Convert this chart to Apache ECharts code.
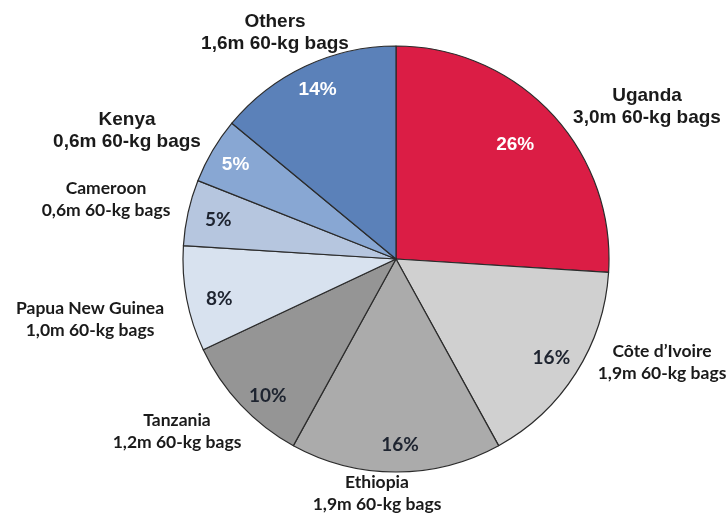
<!DOCTYPE html>
<html>
<head>
<meta charset="utf-8">
<script src="https://cdn.jsdelivr.net/npm/echarts@6/dist/echarts.min.js"></script>
<style>
  html, body { margin: 0; padding: 0; background: #fff; }
  #chart { width: 728px; height: 515px; }
</style>
</head>
<body>
<div id="chart"></div>
<script>
// Share of production by origin, clockwise from 12 o'clock
const origins = ['Uganda', 'Côte d\u2019Ivoire', 'Ethiopia', 'Tanzania', 'Papua New Guinea', 'Cameroon', 'Kenya', 'Others'];
const sharePct = [26, 16, 16, 10, 8, 5, 5, 14];
const bagsMillions = [3.0, 1.9, 1.9, 1.2, 1.0, 0.6, 0.6, 1.6];

const sliceColors = ['#db1d45', '#d0d0d0', '#ababab', '#959595', '#d8e2ef', '#b6c6df', '#88a7d3', '#5b81b9'];
// Slices whose labels are set in an Arial-style face with white percentages
const arialSet = { 'Uganda': true, 'Kenya': true, 'Others': true };
const ARIAL = 'Arial';
const CALIBRI = 'Lato';

const CX = 396, CY = 259, R = 213;

// Centres of the outer name labels
const nameSpots = {
  'Uganda': [647, 107],
  'Côte d\u2019Ivoire': [662, 362],
  'Ethiopia': [377, 493],
  'Tanzania': [177, 431],
  'Papua New Guinea': [90, 319],
  'Cameroon': [106, 199],
  'Kenya': [127, 131],
  'Others': [275, 33]
};
// Small nudges for the percentage labels
const pctNudge = {
  'Uganda': [-15, 12],
  'Ethiopia': [4, 2],
  'Tanzania': [6, 11],
  'Others': [0, -3],
  'Kenya': [-2, -1],
  'Papua New Guinea': [4, 5],
  'Cameroon': [2, 1]
};

const fmtBags = v => v.toFixed(1).replace('.', ',') + 'm 60-kg bags';

const chart = echarts.init(document.getElementById('chart'), null, { renderer: 'canvas' });

const sliceData = origins.map((name, i) => ({
  name,
  value: sharePct[i],
  itemStyle: { color: sliceColors[i] },
  label: {
    fontFamily: arialSet[name] ? ARIAL : CALIBRI,
    fontSize: arialSet[name] ? 19 : 17.5,
    lineHeight: 22
  }
}));

const pctData = origins.map((name, i) => ({
  name,
  value: sharePct[i],
  label: {
    color: arialSet[name] ? '#ffffff' : '#1e2430',
    fontFamily: arialSet[name] ? ARIAL : CALIBRI,
    fontSize: 19
  }
}));

chart.setOption({
  backgroundColor: '#ffffff',
  animation: false,
  series: [
    {
      type: 'pie',
      center: [CX, CY],
      radius: [0, R],
      startAngle: 90,
      clockwise: true,
      data: sliceData,
      itemStyle: { borderColor: '#2b2b2b', borderWidth: 1.2 },
      label: {
        show: true,
        position: 'outside',
        fontWeight: 'bold',
        color: '#1a1a1a',
        align: 'center',
        overflow: 'none',
        formatter: p => p.name + '\n' + fmtBags(bagsMillions[p.dataIndex])
      },
      labelLine: { show: false },
      labelLayout: p => {
        const s = nameSpots[origins[p.dataIndex]];
        return { x: s[0], y: s[1], align: 'center', verticalAlign: 'middle' };
      },
      emphasis: { disabled: true }
    },
    {
      type: 'pie',
      center: [CX, CY],
      radius: [R * 0.70, R],
      startAngle: 90,
      clockwise: true,
      silent: true,
      data: pctData,
      itemStyle: { color: 'rgba(0,0,0,0)', borderWidth: 0 },
      label: {
        show: true,
        position: 'inside',
        fontWeight: 'bold',
        formatter: p => p.value + '%'
      },
      labelLine: { show: false },
      labelLayout: p => {
        const n = pctNudge[origins[p.dataIndex]] || [0, 0];
        return { dx: n[0], dy: n[1] };
      },
      emphasis: { disabled: true }
    }
  ]
});
</script>
</body>
</html>
